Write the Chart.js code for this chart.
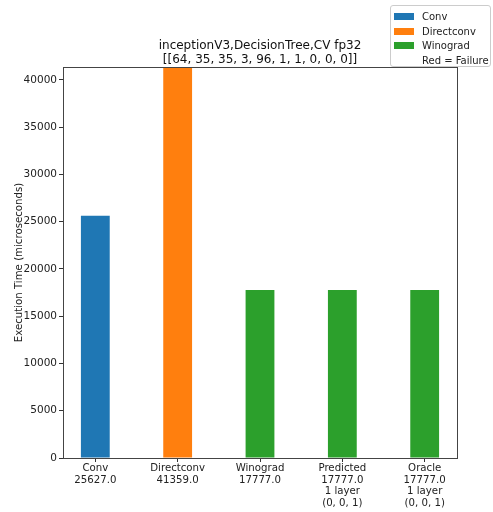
<!DOCTYPE html>
<html>
<head>
<title>inceptionV3 DecisionTree</title>
<script src="https://cdn.jsdelivr.net/npm/chart.js"></script>
<style>
body { margin: 0; background: #fff; font-family: "DejaVu Sans", sans-serif; }
.wrap { position: relative; width: 493px; height: 512px; }
.legend { position: absolute; left: 390px; top: 5px; width: 101px; height: 62px; border: 1px solid #ccc; border-radius: 3px; background: rgba(255,255,255,0.85); font-size: 10px; color: #222; box-sizing: border-box; padding: 4px 0 0 3px; }
.legend div { height: 14.5px; line-height: 14.5px; white-space: nowrap; }
.legend span { display: inline-block; width: 20px; height: 7px; margin-right: 8px; vertical-align: 0px; }
</style>
</head>
<body>
<div class="wrap">
<canvas id="chart" width="493" height="512"></canvas>
<div class="legend" id="legend"></div>
</div>
<script>
const categories = ['Conv', 'Directconv', 'Winograd', 'Predicted', 'Oracle'];
const times = [25627.0, 41359.0, 17777.0, 17777.0, 17777.0];
const extraLines = [[], [], [], ['1 layer', '(0, 0, 1)'], ['1 layer', '(0, 0, 1)']];
const methodOf = ['Conv', 'Directconv', 'Winograd', 'Winograd', 'Winograd'];
const legendItems = ['Conv', 'Directconv', 'Winograd', 'Red = Failure'];
const yTicks = [0, 5000, 10000, 15000, 20000, 25000, 30000, 35000, 40000];
const titleLines = ['inceptionV3,DecisionTree,CV fp32', '[[64, 35, 35, 3, 96, 1, 1, 0, 0, 0]]'];

const palette = { Conv: '#1f77b4', Directconv: '#ff7f0e', Winograd: '#2ca02c' };

const legend = document.getElementById('legend');
legendItems.forEach(name => {
  const row = document.createElement('div');
  const sw = document.createElement('span');
  if (palette[name]) sw.style.background = palette[name];
  row.appendChild(sw);
  row.appendChild(document.createTextNode(name));
  legend.appendChild(row);
});

const tickLabel = i => [categories[i], times[i].toFixed(1)].concat(extraLines[i]);

const framePlugin = {
  id: 'frame',
  afterDraw(chart) {
    const a = chart.chartArea, c = chart.ctx;
    c.save();
    c.strokeStyle = '#444';
    c.lineWidth = 1;
    c.strokeRect(Math.round(a.left) + 0.5, Math.round(a.top) + 0.5, Math.round(a.right - a.left), Math.round(a.bottom - a.top));
    c.fillStyle = '#111';
    c.font = '12px "DejaVu Sans"';
    c.textAlign = 'center';
    c.textBaseline = 'middle';
    const cx = (a.left + a.right) / 2;
    c.fillText(titleLines[0], cx, 46);
    c.fillText(titleLines[1], cx, 60);
    c.restore();
  }
};

new Chart(document.getElementById('chart'), {
  type: 'bar',
  data: {
    datasets: [{
      data: times.map((v, i) => ({ x: i, y: v })),
      backgroundColor: methodOf.map(m => palette[m]),
      borderWidth: 0,
      categoryPercentage: 1,
      barPercentage: 0.35
    }]
  },
  options: {
    responsive: false,
    animation: false,
    layout: { padding: { left: 0, right: 36, top: 67, bottom: 0 } },
    plugins: { legend: { display: false }, tooltip: { enabled: false } },
    scales: {
      x: {
        type: 'linear',
        offset: false,
        min: -0.3925,
        max: 4.3925,
        afterBuildTicks: s => { s.ticks = categories.map((_, i) => ({ value: i })); },
        afterFit: s => { s.height = 54; },
        grid: { display: true, offset: false, drawOnChartArea: false, drawTicks: true, tickLength: 4, color: '#333' },
        border: { display: false },
        ticks: {
          autoSkip: false,
          maxRotation: 0,
          padding: 1,
          color: '#222',
          font: { family: 'DejaVu Sans', size: 10.2, lineHeight: 1.13 },
          callback: v => tickLabel(v)
        }
      },
      y: {
        min: 0,
        max: 41359,
        afterBuildTicks: s => { s.ticks = yTicks.map(v => ({ value: v })); },
        afterFit: s => { s.width = 63; },
        grid: { display: true, drawOnChartArea: false, drawTicks: true, tickLength: 4, color: '#333' },
        border: { display: false },
        ticks: {
          padding: 2,
          color: '#222',
          font: { family: 'DejaVu Sans', size: 10.5 },
          callback: v => String(v)
        },
        title: {
          display: true,
          text: 'Execution Time (microseconds)',
          color: '#222',
          font: { family: 'DejaVu Sans', size: 10.2 },
          padding: { top: 13, bottom: 0 }
        }
      }
    }
  },
  plugins: [framePlugin]
});
</script>
</body>
</html>
